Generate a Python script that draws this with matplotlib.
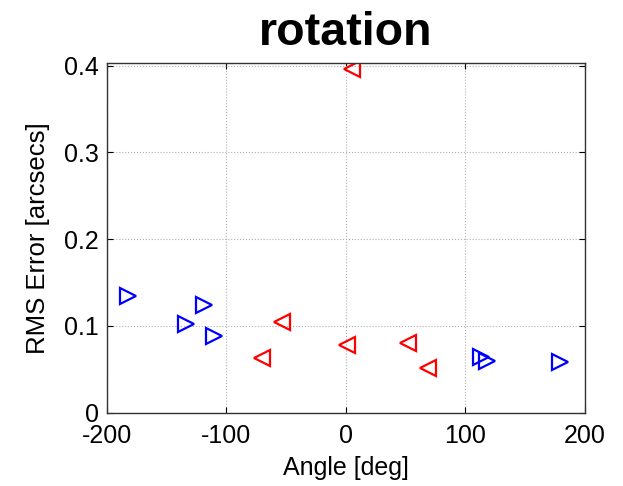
import matplotlib
matplotlib.use('Agg')
import matplotlib.pyplot as plt

plt.rcParams['font.family'] = ['Liberation Sans', 'DejaVu Sans']
plt.rcParams['axes.unicode_minus'] = False

# blue series (right-pointing triangles)
blue_angle = [-182.7, -118.6, -133.9, -110.5, 112.7, 117.7, 179.0]
blue_rms = [0.1345, 0.124, 0.1026, 0.088, 0.0638, 0.0596, 0.0588]

# red series (left-pointing triangles)
red_angle = [4.8, -53.8, -70.5, 0.6, 52.1, 69.0]
red_rms = [0.396, 0.104, 0.0627, 0.078, 0.080, 0.051]

xticks = [-200, -100, 0, 100, 200]
yticks = [0, 0.1, 0.2, 0.3, 0.4]
ytick_labels = ['0', '0.1', '0.2', '0.3', '0.4']

fig = plt.figure(figsize=(6.23, 4.86), dpi=100)
ax = fig.add_axes([0.1717, 0.1508, 0.7673, 0.7196])

ax.plot(blue_angle, blue_rms, linestyle='none', marker='>', markersize=11,
        markerfacecolor='none', markeredgecolor='blue', markeredgewidth=1.6)
ax.plot(red_angle, red_rms, linestyle='none', marker='<', markersize=11,
        markerfacecolor='none', markeredgecolor='red', markeredgewidth=1.6)

ax.set_xlim(-200, 200)
ax.set_ylim(0, 0.403)
ax.set_xticks(xticks)
ax.set_yticks(yticks)
ax.set_yticklabels(ytick_labels)
ax.grid(True, linestyle=':', color='#b0b0b0', linewidth=0.8)
ax.tick_params(direction='in', top=True, right=True, labelsize=18, length=4)
ax.tick_params(axis='x', pad=8)
ax.tick_params(axis='y', pad=6)
for s in ax.spines.values():
    s.set_linewidth(1.0)
    s.set_color('#333333')

ax.set_xlabel('Angle [deg]', fontsize=18, labelpad=6)
ax.set_ylabel('RMS Error [arcsecs]', fontsize=18.5, labelpad=10)
ax.set_title('rotation', fontsize=33.5, fontweight='bold', pad=13)

fig.savefig('out.png', dpi=100)
